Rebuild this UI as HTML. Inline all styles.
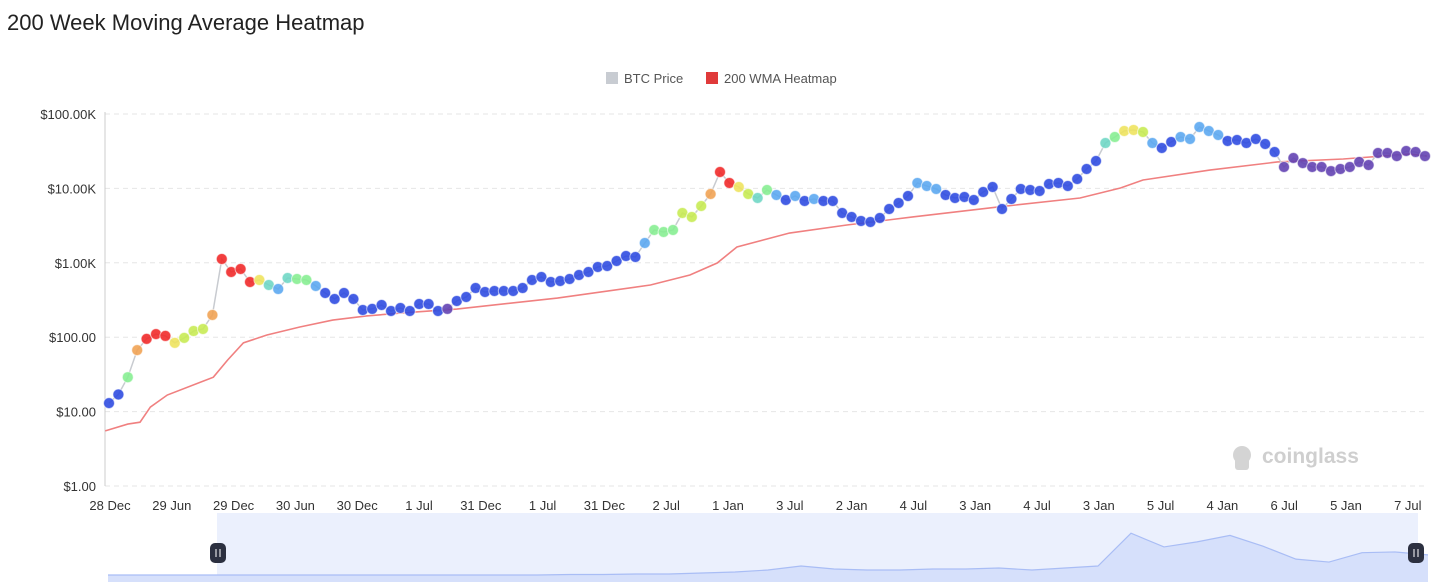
<!DOCTYPE html>
<html><head><meta charset="utf-8"><style>
body{margin:0;background:#fff;width:1437px;height:582px;overflow:hidden;font-family:"Liberation Sans",sans-serif;}
#title{position:absolute;left:7px;top:10px;font-size:22px;color:#222;}
svg{position:absolute;left:0;top:0}
</style></head><body>
<div id="title">200 Week Moving Average Heatmap</div>
<svg id="c" width="1437" height="582"></svg>
<script>
const prices=[13,17,29,67,95,110,104,84,98,121,129,199,1125,752,826,552,587,503,444,625,606,587,488,393,326,393,326,232,240,271,225,247,225,279,279,225,240,307,347,458,405,418,418,418,458,587,644,552,569,606,685,752,879,906,1057,1233,1197,1845,2760,2594,2760,4670,4127,5800,8410,16600,11830,10450,8410,7430,9510,8150,6980,7910,6770,7210,6770,6770,4670,4127,3650,3535,4000,5290,6370,7910,11830,10770,9820,8150,7430,7660,6980,8950,10450,5290,7210,9820,9510,9230,11460,11830,10770,13370,18240,23350,40700,49000,59100,61000,57300,40700,34900,42000,49000,46100,66800,59100,52200,43400,44700,40700,46100,39500,30800,19400,25600,21900,19400,19400,17100,18240,19400,22600,20600,29900,29900,27200,31800,30800,27200];
const heat=[7,7,4,1,0,0,0,2,3,3,3,1,0,0,0,0,2,5,6,5,4,4,6,7,7,7,7,7,7,7,7,7,7,7,7,7,8,7,7,7,7,7,7,7,7,7,7,7,7,7,7,7,7,7,7,7,7,6,4,4,4,3,3,3,1,0,0,2,3,5,4,6,7,6,7,6,7,7,7,7,7,7,7,7,7,7,6,6,6,7,7,7,7,7,7,7,7,7,7,7,7,7,7,7,7,7,5,4,2,2,3,6,7,7,6,6,6,6,6,7,7,7,7,7,7,8,8,8,8,8,8,8,8,8,8,8,8,8,8,8,8];
const wmaMonths=[-0.4,2,3.3,4.4,6.2,11.1,12.6,14.3,16.8,20.3,23.8,27.4,31,37,47.7,57.6,61.8,64.7,66.8,72.4,78.5,85.5,94.5,103.3,107.6,110,117.1,124.3,131.3,138.4,140.2];
const wmaValues=[5.5,6.8,7.2,11.5,16.7,29,49,84,107,137,170,193,211,239,336,503,685,993,1630,2513,3220,4130,5620,7430,10120,12970,17660,22650,24830,28980,27240];
const xLabels=["28 Dec","29 Jun","29 Dec","30 Jun","30 Dec","1 Jul","31 Dec","1 Jul","31 Dec","2 Jul","1 Jan","3 Jul","2 Jan","4 Jul","3 Jan","4 Jul","3 Jan","5 Jul","4 Jan","6 Jul","5 Jan","7 Jul"];
const yTicks=[1,10,100,1000,10000,100000];
const yTickLabels=["$1.00","$10.00","$100.00","$1.00K","$10.00K","$100.00K"];
const sliderVals=[0,0,0,0,0,0,0,0,0,0,0,0,0,0,0.7,0.7,1.4,1.4,2.8,4.2,6.9,12.5,8.3,6.9,6.9,8.3,8.3,9.7,6.9,9.7,12.5,58,39,46,55,40,22,18,31,32,28];
const heatColors=["#f02424","#f0a050","#eee25a","#c6ea50","#84ee90","#6cd6c4","#58a6f0","#2a48e0","#5e3eb0"];

const NS="http://www.w3.org/2000/svg",svg=document.getElementById('c');
function el(t,a,p){const e=document.createElementNS(NS,t);for(const k in a)e.setAttribute(k,a[k]);(p||svg).appendChild(e);return e;}
const X0=105,X1=1428,Y0=486,DEC=74.4;
const xs=m=>109+m*9.4;
const ys=v=>Y0-Math.log10(v)*DEC;

yTicks.forEach((t,i)=>{
  const g=el('line',{x1:X0,x2:X1,y1:ys(t),y2:ys(t),stroke:'#e6e6e6','stroke-dasharray':'5,4'});
  
  
  const tx=el('text',{x:96,y:ys(t)+5,'text-anchor':'end','font-size':13,fill:'#333'});
  tx.textContent=yTickLabels[i];
  
  
});
const ax=el('line',{x1:X0,x2:X0,y1:112,y2:Y0,stroke:'#ccc'});


xLabels.forEach((l,i)=>{
  const tx=el('text',{x:110+i*61.8,y:510,'text-anchor':'middle','font-size':13,fill:'#333'});
  tx.textContent=l;
  
  
});

const wm=el('g',{});


el('circle',{cx:1242,cy:455,r:9,fill:'#d4d4d4'},wm);
el('rect',{x:1235,y:458,width:14,height:12,rx:3,fill:'#d4d4d4'},wm);
const wt=el('text',{x:1262,y:463,'font-size':21,'font-weight':'bold',fill:'#cfcfcf'},wm);wt.textContent='coinglass';

const wp=el('polyline',{points:wmaMonths.map((m,i)=>xs(m)+','+ys(wmaValues[i])).join(' '),fill:'none',stroke:'#f08080','stroke-width':1.6});


const pl=el('polyline',{points:prices.map((p,i)=>xs(i)+','+ys(p)).join(' '),fill:'none',stroke:'#c8cbd0','stroke-width':1.5});


prices.forEach((p,i)=>{
  const c=el('circle',{cx:xs(i),cy:ys(p),r:5.5,fill:heatColors[heat[i]],'fill-opacity':0.88,stroke:'#fff','stroke-opacity':0.6,'stroke-width':1});
  
  
});

const lg=el('g',{});


const l1=el('rect',{x:606,y:72,width:12,height:12,fill:'#c8ccd2'},lg);


let t=el('text',{x:624,y:83,'font-size':13,fill:'#555'},lg);t.textContent='BTC Price';
const l2=el('rect',{x:706,y:72,width:12,height:12,fill:'#e03a3a'},lg);


t=el('text',{x:724,y:83,'font-size':13,fill:'#555'},lg);t.textContent='200 WMA Heatmap';

const sl=el('g',{});


el('rect',{x:217,y:513,width:1201,height:69,fill:'#ebf0fd'},sl);
const sx=i=>108+i*33, sy=v=>575-v*0.72;
let d='M'+sx(0)+',582 '+sliderVals.map((v,i)=>'L'+sx(i)+','+sy(v)).join(' ')+' L'+sx(sliderVals.length-1)+',582Z';
el('path',{d:d,fill:'#d6e0fb',stroke:'none'},sl);
el('polyline',{points:sliderVals.map((v,i)=>sx(i)+','+sy(v)).join(' '),fill:'none',stroke:'#a9bdf5','stroke-width':1.2},sl);
[[210,543],[1408,543]].forEach(h=>{
  const hg=el('g',{},sl);
  
  
  el('rect',{x:h[0],y:h[1],width:16,height:20,rx:5,fill:'#2c3040'},hg);
  el('line',{x1:h[0]+6,x2:h[0]+6,y1:h[1]+6,y2:h[1]+14,stroke:'#fff','stroke-width':1},hg);
  el('line',{x1:h[0]+10,x2:h[0]+10,y1:h[1]+6,y2:h[1]+14,stroke:'#fff','stroke-width':1},hg);
});
</script>
</body></html>
